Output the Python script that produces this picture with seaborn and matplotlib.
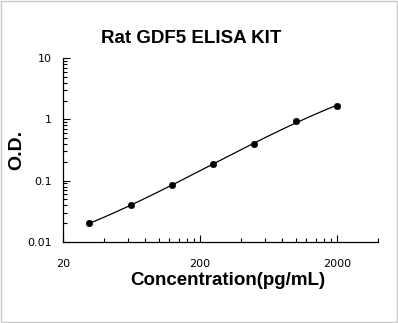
import matplotlib

matplotlib.use("Agg")
import matplotlib.pyplot as plt
import numpy as np
import pandas as pd
import seaborn as sns
from matplotlib.patches import Rectangle
from matplotlib.ticker import FixedLocator, NullFormatter

# standard curve readings
concentration = [31.25, 62.5, 125, 250, 500, 1000, 2000]
od = [0.020, 0.040, 0.086, 0.187, 0.39, 0.93, 1.67]
x_ticks = [20, 200, 2000]
x_tick_labels = ["20", "200", "2000"]
y_ticks = [0.01, 0.1, 1, 10]
y_tick_labels = ["0.01", "0.1", "1", "10"]

sns.set_style("ticks")
plt.rcParams["font.family"] = ["DejaVu Sans"]
plt.rcParams["xtick.direction"] = "in"
plt.rcParams["ytick.direction"] = "in"
plt.rcParams["text.color"] = "black"

df = pd.DataFrame({"conc": concentration, "od": od})

# smooth fit through the points in log-log space
coef = np.polyfit(np.log10(df["conc"]), np.log10(df["od"]), 3)
fit_x = np.logspace(np.log10(concentration[0]), np.log10(concentration[-1]), 200)
fit = pd.DataFrame({"conc": fit_x, "od": 10 ** np.polyval(coef, np.log10(fit_x))})

fig = plt.figure(figsize=(3.98, 3.23), dpi=100)
ax = fig.add_axes([0.158, 0.251, 0.792, 0.569])

sns.lineplot(data=fit, x="conc", y="od", color="black", linewidth=0.9, ax=ax)
sns.scatterplot(data=df, x="conc", y="od", color="black", s=22, edgecolor="black", ax=ax, zorder=3)

ax.set_xscale("log")
ax.set_yscale("log")
ax.set_xlim(20, 4000)
ax.set_ylim(0.01, 10)

ax.xaxis.set_major_locator(FixedLocator(x_ticks))
ax.set_xticklabels(x_tick_labels)
minor_x = [20 * k * 10 ** n for n in range(3) for k in range(2, 10)]
minor_x = [v for v in minor_x if v not in x_ticks and v <= 4000]
ax.xaxis.set_minor_locator(FixedLocator(minor_x))
ax.xaxis.set_minor_formatter(NullFormatter())

ax.yaxis.set_major_locator(FixedLocator(y_ticks))
ax.set_yticklabels(y_tick_labels)
minor_y = [k * 10.0 ** n for n in range(-2, 1) for k in range(2, 10)]
ax.yaxis.set_minor_locator(FixedLocator(minor_y))
ax.yaxis.set_minor_formatter(NullFormatter())

ax.tick_params(axis="both", which="major", direction="in", length=5, width=0.8,
               labelsize=8, colors="black", labelcolor="black")
ax.tick_params(axis="both", which="minor", direction="in", length=3, width=0.8, colors="black")
ax.tick_params(axis="x", which="major", pad=12)
ax.tick_params(axis="y", which="major", pad=8)

sns.despine(ax=ax)
for side in ["left", "bottom"]:
    ax.spines[side].set_linewidth(0.9)
    ax.spines[side].set_color("black")

ax.set_xlabel("Concentration(pg/mL)", fontsize=13.5, fontweight="bold",
              family="Liberation Sans", color="black")
ax.xaxis.set_label_coords(0.524, -0.165)
ax.set_ylabel("O.D.", fontsize=14, fontweight="bold", family="Liberation Sans", color="black")
ax.yaxis.set_label_coords(-0.12, 0.5)
fig.text(0.48, 0.882, "Rat GDF5 ELISA KIT", ha="center", va="center",
         fontsize=13.5, fontweight="bold", family="Liberation Sans", color="black")

fig.patches.append(Rectangle((0.002, 0.002), 0.995, 0.995, transform=fig.transFigure,
                             fill=False, edgecolor="#c8c8c8", linewidth=1))

fig.savefig("out.png", dpi=100)
